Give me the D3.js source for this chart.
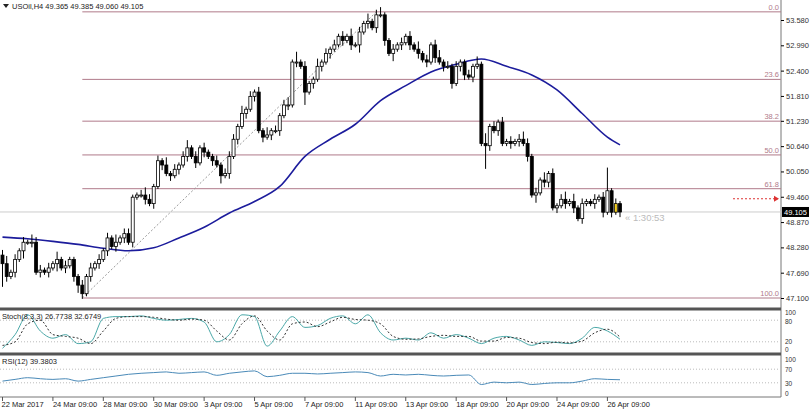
<!DOCTYPE html>
<html><head><meta charset="utf-8">
<script src="https://cdn.jsdelivr.net/npm/d3@7"></script>
<style>body{margin:0;background:#fff}text{font-family:"Liberation Sans",Arial,sans-serif;font-size:7.5px}</style>
</head><body><svg id="c" width="810" height="409"></svg>
<script>
// closes, one per H4 candle
var closes = [47.9,47.6,47.7,48.0,48.2,48.4,48.4,48.4,47.7,47.75,
  47.7,47.8,47.9,48.0,47.8,47.85,48.0,47.6,47.4,47.2,
  47.6,47.8,47.9,48.0,48.2,48.5,48.3,48.4,48.5,48.6,
  48.4,49.45,49.5,49.5,49.4,49.3,49.7,50.3,50.2,50.0,
  49.95,50.1,50.2,50.4,50.6,50.4,50.25,50.6,50.5,50.4,
  50.3,50.2,49.95,50.0,50.4,50.8,51.1,51.4,51.5,51.8,
  51.9,51.0,50.85,50.9,51.0,51.0,51.35,51.6,51.6,52.6,
  52.6,52.5,51.9,52.1,52.2,52.5,52.6,52.8,52.9,53.0,
  53.2,53.1,53.2,53.0,53.0,53.3,53.5,53.55,53.4,53.7,
  53.7,53.1,52.8,52.9,53.0,53.05,53.2,53.0,52.9,52.8,
  52.65,52.6,53.0,52.7,52.6,52.5,52.5,52.1,52.5,52.6,
  52.3,52.25,52.5,52.55,50.7,50.65,51.1,51.0,51.2,50.7,
  50.75,50.7,50.75,50.8,50.7,50.4,49.5,49.55,49.85,49.8,
  50.0,49.2,49.25,49.4,49.3,49.35,49.2,48.95,49.3,49.35,
  49.3,49.4,49.45,49.1,49.6,49.1,49.3,49.105];
var firstOpen = 48.1;
// wick lengths in steps of 0.06
var upWick = ("2312121322"+"1213121112"+"1212121312"+"2112321213"+"1212312121"+
  "1212221312"+"1213121231"+"4121131212"+"1213121312"+"3112121213"+
  "1212312121"+"1213141212"+"1212321213"+"1212313121"+"12129121").split("").map(Number);
var downWick = ("9212131212"+"1213121232"+"1212121212"+"1211212121"+"2121212121"+
  "2131212121"+"2121212121"+"2151212121"+"1212131212"+"1213121212"+
  "1212121212"+"2121192121"+"1212121312"+"2121212121"+"12121212").split("").map(Number);
// moving average, every 6 candles + last
var maIdx = [0,6,12,18,24,30,36,42,48,54,60,66,72,78,84,90,96,102,108,114,120,126,132,138,144,147];
var maVal = [48.52,48.48,48.42,48.35,48.26,48.2,48.27,48.5,48.75,49.08,49.35,49.7,50.4,50.8,51.15,51.7,52.05,52.37,52.55,52.67,52.5,52.3,51.95,51.4,50.85,50.67];
// oscillators, every 3 candles
var stochK = [2,40,95,50,30,40,15,20,85,90,90,92,85,80,82,85,75,20,40,95,90,8,50,90,60,65,85,92,70,95,45,25,30,25,45,30,40,30,15,30,35,25,10,20,18,15,30,60,50,27];
var stochD = [10,20,70,80,40,35,30,15,50,85,90,90,88,83,80,83,80,50,25,70,92,50,25,70,75,62,75,88,82,80,70,35,27,28,35,38,35,35,22,22,32,30,18,15,19,17,22,45,55,33];
var rsi = [35,40,45,42,40,42,35,40,45,50,55,58,60,62,58,60,62,52,58,62,65,48,52,58,58,56,58,60,62,60,50,55,53,55,52,50,52,53,25,32,30,32,25,28,30,30,35,42,40,39];
var priceTicks = [53.58,52.99,52.40,51.81,51.23,50.64,50.05,49.46,48.87,48.28,47.69,47.10];
var fibLevels = [0,23.6,38.2,50.0,61.8,100];
var fibHigh = 53.77, fibLow = 47.10, fibStartIdx = 19, fibEndIdx = 89;
var dateLabels = ["22 Mar 2017","24 Mar 09:00","28 Mar 09:00","30 Mar 09:00","3 Apr 09:00","5 Apr 09:00","7 Apr 09:00","11 Apr 09:00","13 Apr 09:00","18 Apr 09:00","20 Apr 09:00","24 Apr 09:00","26 Apr 09:00"];
var dateIdx = [0,12,24,36,48,60,72,84,96,108,120,132,144];

var svg = d3.select("#c");
var W = 781;
var x = d3.scaleLinear().domain([0, 147]).range([2.5, 620]);
var y = d3.scaleLinear().domain([47.10, 53.58]).range([298, 20]);
var yS = d3.scaleLinear().domain([0, 100]).range([349, 313]);
var yR = d3.scaleLinear().domain([0, 100]).range([393, 359]);
var fibCol = "#b07a8a";

// panels frame
svg.append("line").attr("x1", W).attr("x2", W).attr("y1", 0).attr("y2", 397).attr("stroke", "#777");
svg.append("line").attr("x1", 0).attr("x2", W).attr("y1", 397).attr("y2", 397).attr("stroke", "#777");
[309, 354].forEach(function (yy) {
  svg.append("rect").attr("x", 0).attr("y", yy - 1.5).attr("width", W).attr("height", 3).attr("fill", "#555");
});

// price axis
var ax = svg.append("g").attr("transform", "translate(" + W + ",0)")
  .call(d3.axisRight(y).tickValues(priceTicks).tickFormat(d3.format(".3f")).tickSize(3));
ax.select(".domain").remove();
ax.selectAll("text").attr("fill", "#333").attr("x", 5).style("font-size", "7.5px").style("font-family", "Liberation Sans");

// fibonacci levels
fibLevels.forEach(function (lv) {
  var p = fibHigh - (fibHigh - fibLow) * lv / 100;
  svg.append("line").attr("x1", x(fibStartIdx)).attr("x2", W).attr("y1", y(p)).attr("y2", y(p))
    .attr("stroke", fibCol).attr("stroke-width", 1);
  svg.append("text").attr("x", W - 2).attr("y", y(p) - 2).attr("text-anchor", "end")
    .attr("fill", fibCol).text(lv.toFixed(1));
});
svg.append("line").attr("x1", x(fibStartIdx)).attr("y1", y(fibLow)).attr("x2", x(fibEndIdx)).attr("y2", y(fibHigh))
  .attr("stroke", "#999").attr("stroke-dasharray", "2,2");

// current price line
var last = closes[closes.length - 1];
svg.append("line").attr("x1", 0).attr("x2", W).attr("y1", y(last)).attr("y2", y(last)).attr("stroke", "#ccc");
svg.append("rect").attr("x", W + 1).attr("y", y(last) - 5).attr("width", 27).attr("height", 10).attr("fill", "#000");
svg.append("text").attr("x", W + 3).attr("y", y(last) + 3).attr("fill", "#fff").text(d3.format(".3f")(last));
svg.append("text").attr("x", 625).attr("y", y(last) + 9).attr("fill", "#bbb").style("font-size", "9.5px").text("« 1:30:53");
svg.append("line").attr("x1", 733).attr("x2", 778).attr("y1", y(49.46) + 2).attr("y2", y(49.46) + 2)
  .attr("stroke", "#d33").attr("stroke-dasharray", "2,2");
svg.append("path").attr("d", "M774," + (y(49.46) - 1) + "l5,3l-5,3z").attr("fill", "#d33");

// moving average
svg.append("path").datum(maIdx.map(function (d, i) { return [d, maVal[i]]; }))
  .attr("fill", "none").attr("stroke", "#1c1c9c").attr("stroke-width", 1.6)
  .attr("d", d3.line().x(function (d) { return x(d[0]); }).y(function (d) { return y(d[1]); }).curve(d3.curveMonotoneX));

// candles
var candles = closes.map(function (c, i) {
  var o = i === 0 ? firstOpen : closes[i - 1];
  return {i: i, o: o, c: c, h: Math.max(o, c) + upWick[i] * 0.06, l: Math.min(o, c) - downWick[i] * 0.06};
});
var g = svg.append("g");
g.selectAll("line").data(candles).enter().append("line")
  .attr("x1", function (d) { return x(d.i); }).attr("x2", function (d) { return x(d.i); })
  .attr("y1", function (d) { return y(d.h); }).attr("y2", function (d) { return y(d.l); })
  .attr("stroke", "#000");
g.selectAll("rect").data(candles).enter().append("rect")
  .attr("x", function (d) { return x(d.i) - 1.5; }).attr("width", 3)
  .attr("y", function (d) { return y(Math.max(d.o, d.c)); })
  .attr("height", function (d) { return Math.max(1, Math.abs(y(d.o) - y(d.c))); })
  .attr("fill", function (d, i) { return d.c >= d.o ? (i === 146 ? "#f5d020" : "#fff") : "#000"; })
  .attr("stroke", "#000").attr("stroke-width", 0.8);

// stochastic
[80, 20].forEach(function (v) {
  svg.append("line").attr("x1", 0).attr("x2", W).attr("y1", yS(v)).attr("y2", yS(v)).attr("stroke", "#bbb").attr("stroke-dasharray", "1,2");
});
var oscLine = function (sc) {
  return d3.line().x(function (d, i) { return x(Math.min(i * 3, 147)); }).y(function (d) { return sc(d); }).curve(d3.curveMonotoneX);
};
svg.append("path").datum(stochK).attr("fill", "none").attr("stroke", "#4aa8a8").attr("d", oscLine(yS));
svg.append("path").datum(stochD).attr("fill", "none").attr("stroke", "#333").attr("stroke-dasharray", "2,2").attr("d", oscLine(yS));
svg.append("text").attr("x", 2).attr("y", 319).attr("fill", "#222").text("Stoch(8,3,3) 26.7738 32.6749");
[[100, 0], [80, 2], [20, 0], [0, 1]].forEach(function (t) {
  svg.append("text").attr("x", W + 4).attr("y", yS(t[0]) + t[1] + 2).attr("fill", "#333").style("font-size", "6.5px").text(t[0]);
});

// rsi
[70, 30].forEach(function (v) {
  svg.append("line").attr("x1", 0).attr("x2", W).attr("y1", yR(v)).attr("y2", yR(v)).attr("stroke", "#bbb").attr("stroke-dasharray", "1,2");
});
svg.append("path").datum(rsi).attr("fill", "none").attr("stroke", "#4a8ab8").attr("d", oscLine(yR));
svg.append("text").attr("x", 2).attr("y", 364).attr("fill", "#222").text("RSI(12) 39.3803");
[100, 70, 30, 0].forEach(function (v) {
  svg.append("text").attr("x", W + 4).attr("y", yR(v) + 3).attr("fill", "#333").style("font-size", "6.5px").text(v);
});

// time axis
dateIdx.forEach(function (d, i) {
  svg.append("line").attr("x1", x(d)).attr("x2", x(d)).attr("y1", 397).attr("y2", 401).attr("stroke", "#555");
  svg.append("text").attr("x", x(d) + (i === 0 ? -1 : 0)).attr("y", 407).attr("fill", "#222").text(dateLabels[i]);
});

// title
svg.append("path").attr("d", "M3,4h6l-3,4z").attr("fill", "#222");
svg.append("text").attr("x", 12).attr("y", 9).attr("fill", "#222").text("USOil,H4  49.365 49.385 49.060 49.105");
</script></body></html>
